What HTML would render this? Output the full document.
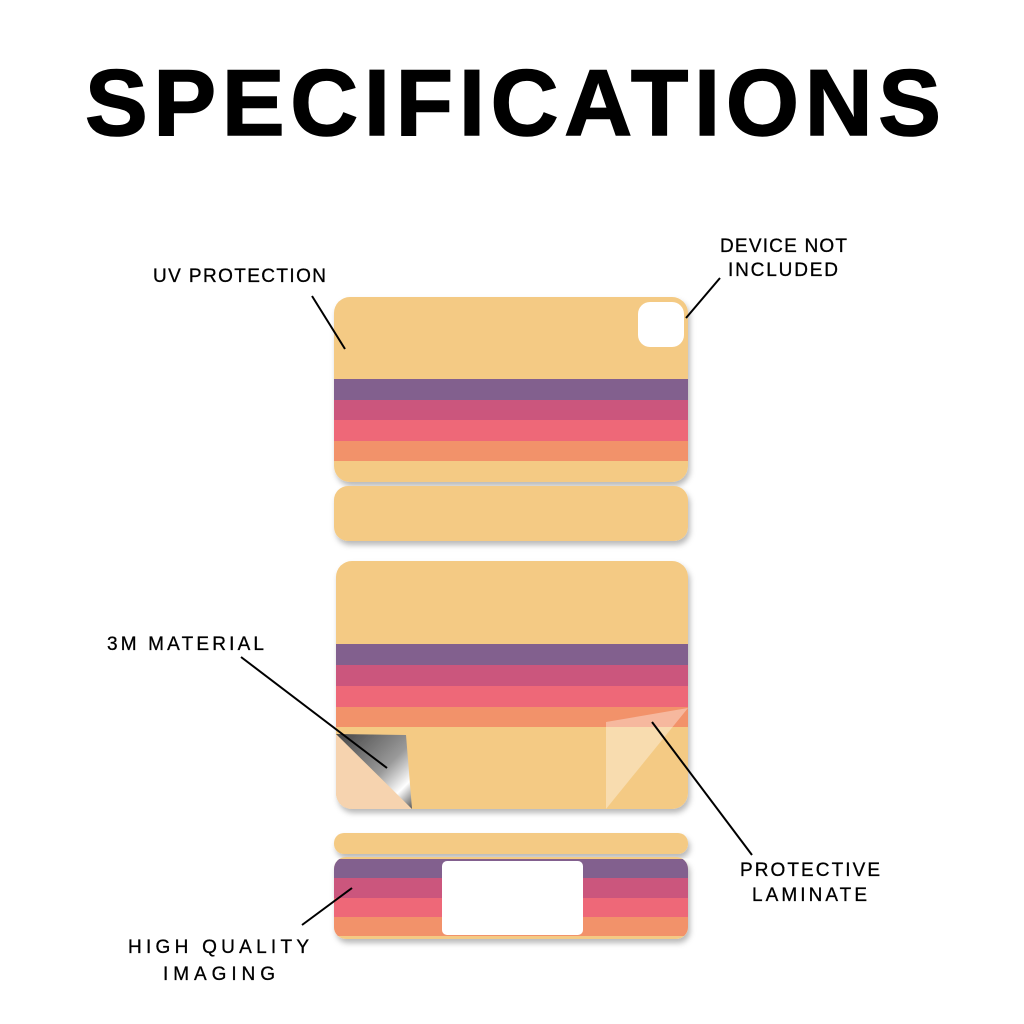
<!DOCTYPE html>
<html><head><meta charset="utf-8"><style>
html,body{margin:0;padding:0;background:#fff;width:1024px;height:1024px;overflow:hidden}
</style></head><body>
<svg width="1024" height="1024" viewBox="0 0 1024 1024" xmlns="http://www.w3.org/2000/svg">
<defs>
<filter id="sh" x="-10%" y="-10%" width="120%" height="130%"><feDropShadow dx="2" dy="4" stdDeviation="3" flood-color="#000" flood-opacity="0.28"/></filter>
<clipPath id="c1"><rect x="334" y="297" width="354" height="185" rx="16"/></clipPath>
<clipPath id="c3"><rect x="336" y="561" width="352" height="248" rx="16"/></clipPath>
<clipPath id="c4"><rect x="334" y="857" width="354" height="82" rx="12"/></clipPath>
<linearGradient id="gm" x1="0" y1="0" x2="1" y2="1"><stop offset="0" stop-color="#444"/><stop offset="0.55" stop-color="#999"/><stop offset="0.8" stop-color="#fff"/><stop offset="1" stop-color="#555"/></linearGradient>
</defs>
<text x="85" y="135" font-family="Liberation Sans, sans-serif" font-weight="bold" font-size="94" textLength="856" lengthAdjust="spacing" fill="#000" stroke="#000" stroke-width="1.5">SPECIFICATIONS</text>

<g filter="url(#sh)">
<g clip-path="url(#c1)">
<rect x="334" y="297" width="354" height="185" fill="#F4CA84"/>
<rect x="334" y="379" width="354" height="21" fill="#82608E"/>
<rect x="334" y="400" width="354" height="20" fill="#CB567D"/>
<rect x="334" y="420" width="354" height="21" fill="#EE6878"/>
<rect x="334" y="441" width="354" height="20" fill="#F2926B"/>
</g>
</g>
<rect x="638" y="302" width="46" height="45" rx="12" fill="#fff"/>
<rect x="334" y="486" width="354" height="55" rx="14" fill="#F4CA84" filter="url(#sh)"/>

<g filter="url(#sh)">
<g clip-path="url(#c3)">
<rect x="336" y="561" width="352" height="248" fill="#F4CA84"/>
<rect x="336" y="644" width="352" height="21" fill="#82608E"/>
<rect x="336" y="665" width="352" height="21" fill="#CB567D"/>
<rect x="336" y="686" width="352" height="21" fill="#EE6878"/>
<rect x="336" y="707" width="352" height="20" fill="#F2926B"/>
<polygon points="336,734 412,809 336,809" fill="#F6D3AF"/>
<polygon points="336,734 406,735 412,809" fill="url(#gm)"/>
<polygon points="606,722 688,708 606,809" fill="#fff" opacity="0.35"/>
</g>
</g>

<rect x="334" y="833" width="354" height="21" rx="10" fill="#F4CA84" filter="url(#sh)"/>
<g filter="url(#sh)">
<g clip-path="url(#c4)">
<rect x="334" y="857" width="354" height="82" fill="#F4CA84"/>
<rect x="334" y="859" width="354" height="19" fill="#82608E"/>
<rect x="334" y="878" width="354" height="20" fill="#CB567D"/>
<rect x="334" y="898" width="354" height="19" fill="#EE6878"/>
<rect x="334" y="917" width="354" height="19" fill="#F2926B"/>
</g>
</g>
<rect x="442" y="861" width="141" height="74" rx="5" fill="#fff"/>

<g stroke="#000" stroke-width="2">
<line x1="312" y1="296" x2="345" y2="349"/>
<line x1="720" y1="278" x2="686" y2="318"/>
<line x1="241" y1="657" x2="387" y2="768"/>
<line x1="752" y1="855" x2="652" y2="722"/>
<line x1="302" y1="925" x2="352" y2="888"/>
</g>

<g font-family="Liberation Sans, sans-serif" font-size="19" fill="#000" stroke="#000" stroke-width="0.3" lengthAdjust="spacing">
<text x="153" y="282" textLength="173">UV PROTECTION</text>
<text x="720" y="252" textLength="127">DEVICE NOT</text>
<text x="728" y="276" textLength="110">INCLUDED</text>
<text x="107" y="650" textLength="157">3M MATERIAL</text>
<text x="740" y="876" textLength="140">PROTECTIVE</text>
<text x="752" y="901" textLength="115">LAMINATE</text>
<text x="128" y="953" textLength="181">HIGH QUALITY</text>
<text x="163" y="980" textLength="112">IMAGING</text>
</g>
</svg>
</body></html>
